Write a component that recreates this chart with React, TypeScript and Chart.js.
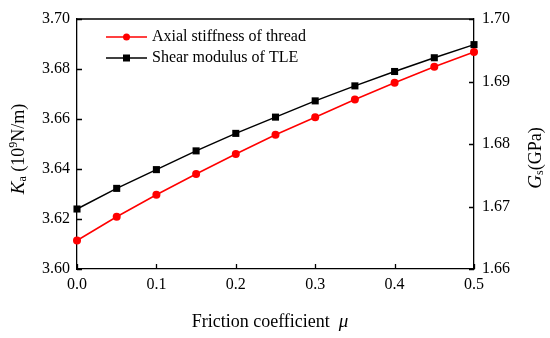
import React, { useEffect, useRef } from "react";
import { Chart, registerables } from "chart.js";

Chart.register(...registerables);

const mu = [0, 0.05, 0.1, 0.15, 0.2, 0.25, 0.3, 0.35, 0.4, 0.45, 0.5];
const axialStiffness = [3.6114, 3.6209, 3.6297, 3.638, 3.646, 3.6537, 3.6607, 3.6678, 3.6745, 3.6809, 3.6868];
const shearModulus = [1.6696, 1.6729, 1.6759, 1.6789, 1.6817, 1.6843, 1.6869, 1.6893, 1.6916, 1.6938, 1.6959];
const xTicks = [0, 0.1, 0.2, 0.3, 0.4, 0.5];
const leftTicks = [3.6, 3.62, 3.64, 3.66, 3.68, 3.7];
const rightTicks = [1.66, 1.67, 1.68, 1.69, 1.7];
const seriesNames = ["Axial stiffness of thread", "Shear modulus of TLE"];

const FONT = "'Liberation Serif', 'Times New Roman', serif";
const RED = "#ff0000";
const BLACK = "#000000";

function drawRich(ctx: CanvasRenderingContext2D, parts: { t: string; italic?: boolean; size: number; dy?: number }[], x: number, y: number) {
  let total = 0;
  for (const p of parts) {
    ctx.font = `${p.italic ? "italic " : ""}${p.size}px ${FONT}`;
    total += ctx.measureText(p.t).width;
  }
  let cx = x - total / 2;
  for (const p of parts) {
    ctx.font = `${p.italic ? "italic " : ""}${p.size}px ${FONT}`;
    ctx.fillText(p.t, cx, y + (p.dy || 0));
    cx += ctx.measureText(p.t).width;
  }
}

const customPlugin = {
  id: "custom",
  afterDraw(chart: any) {
    const ctx: CanvasRenderingContext2D = chart.ctx;
    const { left, right, top, bottom } = chart.chartArea;
    ctx.save();
    ctx.strokeStyle = BLACK;
    ctx.lineWidth = 1.3;
    ctx.beginPath();
    ctx.moveTo(left, top);
    ctx.lineTo(right, top);
    ctx.stroke();
    const tl = 5;
    const xs = chart.scales.x;
    ctx.beginPath();
    for (const v of xTicks) {
      const px = Math.round(xs.getPixelForValue(v)) + 0.5;
      ctx.moveTo(px, bottom);
      ctx.lineTo(px, bottom - tl);
    }
    const yl = chart.scales.y;
    for (const v of leftTicks) {
      const py = Math.round(yl.getPixelForValue(v)) + 0.5;
      ctx.moveTo(left, py);
      ctx.lineTo(left + tl, py);
    }
    const yr = chart.scales.y1;
    for (const v of rightTicks) {
      const py = Math.round(yr.getPixelForValue(v)) + 0.5;
      ctx.moveTo(right, py);
      ctx.lineTo(right - tl, py);
    }
    ctx.stroke();

    const items = [
      { name: seriesNames[0], color: RED, style: "circle" },
      { name: seriesNames[1], color: BLACK, style: "rect" },
    ];
    const lx0 = left + 29;
    const lx1 = left + 70;
    items.forEach((it, i) => {
      const y = top + 18 + i * 21;
      ctx.strokeStyle = it.color;
      ctx.fillStyle = it.color;
      ctx.lineWidth = 1.5;
      ctx.beginPath();
      ctx.moveTo(lx0, y);
      ctx.lineTo(lx1, y);
      ctx.stroke();
      const mx = (lx0 + lx1) / 2;
      if (it.style === "circle") {
        ctx.beginPath();
        ctx.arc(mx, y, 3.5, 0, Math.PI * 2);
        ctx.fill();
      } else {
        ctx.fillRect(mx - 3.5, y - 3.5, 7, 7);
      }
      ctx.fillStyle = BLACK;
      ctx.font = `16px ${FONT}`;
      ctx.textBaseline = "middle";
      ctx.textAlign = "left";
      ctx.fillText(it.name, lx1 + 5, y);
    });

    ctx.fillStyle = BLACK;
    ctx.textAlign = "left";
    ctx.textBaseline = "middle";
    drawRich(ctx, [
      { t: "Friction coefficient  ", size: 18 },
      { t: "\u03BC", size: 19, italic: true },
    ], 270, 322);
    ctx.save();
    ctx.translate(19, 149);
    ctx.rotate(-Math.PI / 2);
    drawRich(ctx, [
      { t: "K", size: 19, italic: true },
      { t: "a", size: 12, dy: 4 },
      { t: " (10", size: 18 },
      { t: "9", size: 12, dy: -5 },
      { t: "N/m)", size: 18 },
    ], 0, 0);
    ctx.restore();
    ctx.save();
    ctx.translate(536, 158);
    ctx.rotate(-Math.PI / 2);
    drawRich(ctx, [
      { t: "G", size: 19, italic: true },
      { t: "s", size: 12, dy: 4 },
      { t: "(GPa)", size: 18 },
    ], 0, 0);
    ctx.restore();
    ctx.restore();
  },
};

export default function App() {
  const ref = useRef<HTMLCanvasElement | null>(null);
  useEffect(() => {
    if (!ref.current) return;
    const tickFont = { family: FONT, size: 16 };
    const chart = new Chart(ref.current, {
      type: "line",
      data: {
        datasets: [
          {
            label: seriesNames[0],
            data: mu.map((x, i) => ({ x, y: axialStiffness[i] })),
            borderColor: RED,
            backgroundColor: RED,
            borderWidth: 1.5,
            pointStyle: "circle",
            pointRadius: 4,
            pointBorderWidth: 0,
            yAxisID: "y",
            clip: false as any,
          },
          {
            label: seriesNames[1],
            data: mu.map((x, i) => ({ x, y: shearModulus[i] })),
            borderColor: BLACK,
            backgroundColor: BLACK,
            borderWidth: 1.5,
            pointStyle: "rect",
            pointRadius: 5,
            pointBorderWidth: 0,
            yAxisID: "y1",
            clip: false as any,
          },
        ],
      },
      options: {
        responsive: false,
        animation: false,
        layout: { padding: { top: 19, left: 0, right: 0, bottom: 0 } },
        plugins: { legend: { display: false }, tooltip: { enabled: false } },
        scales: {
          x: {
            type: "linear",
            min: 0,
            max: 0.5,
            afterBuildTicks: (s: any) => { s.ticks = xTicks.map((v) => ({ value: v })); },
            afterFit: (s: any) => { s.height = 338 - 269; },
            grid: { display: false, drawTicks: false },
            border: { display: true, color: BLACK, width: 1.3 },
            ticks: { font: tickFont, color: BLACK, padding: 6, maxRotation: 0, callback: (v: any) => Number(v).toFixed(1) },
          },
          y: {
            type: "linear",
            position: "left",
            min: 3.6,
            max: 3.7,
            afterBuildTicks: (s: any) => { s.ticks = leftTicks.map((v) => ({ value: v })); },
            afterFit: (s: any) => { s.width = 77; },
            grid: { display: false, drawTicks: false },
            border: { display: true, color: BLACK, width: 1.3 },
            ticks: { font: tickFont, color: BLACK, padding: 7, callback: (v: any) => Number(v).toFixed(2) },
          },
          y1: {
            type: "linear",
            position: "right",
            min: 1.66,
            max: 1.7,
            afterBuildTicks: (s: any) => { s.ticks = rightTicks.map((v) => ({ value: v })); },
            afterFit: (s: any) => { s.width = 550 - 474; },
            grid: { display: false, drawTicks: false },
            border: { display: true, color: BLACK, width: 1.3 },
            ticks: { font: tickFont, color: BLACK, padding: 8, callback: (v: any) => Number(v).toFixed(2) },
          },
        },
      },
      plugins: [customPlugin],
    } as any);
    return () => chart.destroy();
  }, []);
  return (
    <div style={{ position: "fixed", left: 0, top: 0, width: 550, height: 338, background: "#fff" }}>
      <canvas ref={ref} width={550} height={338} style={{ width: 550, height: 338 }} />
    </div>
  );
}
